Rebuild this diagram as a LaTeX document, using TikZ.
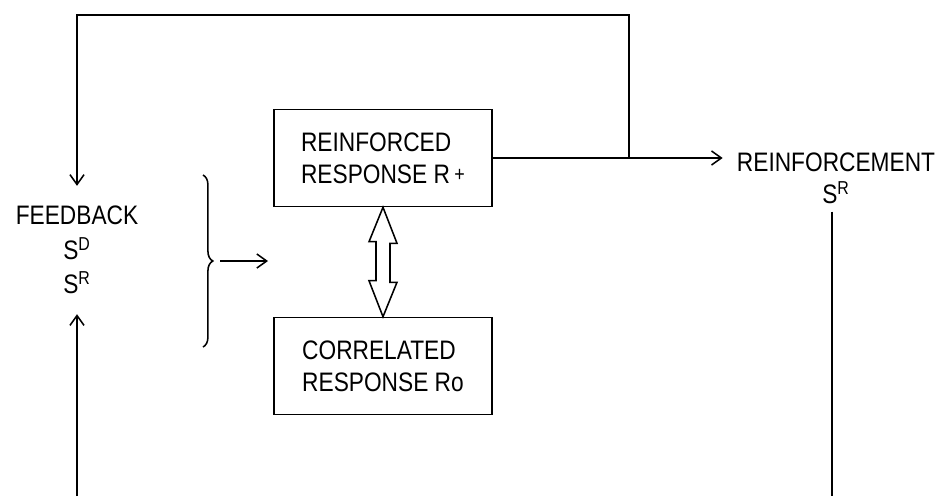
\documentclass[tikz,border=0pt]{standalone}
\usepackage{fontspec}
\setmainfont{Liberation Sans}[FakeStretch=0.85]
\usepackage{tikz}
\usetikzlibrary{arrows.meta, positioning, calc, decorations.pathreplacing}

\tikzset{
  resp/.style={draw, line width=1.1pt, minimum width=5.45cm, minimum height=2.425cm,
    align=left, inner sep=0pt},
  lbl/.style={align=center, inner xsep=0pt, inner ysep=0.5cm},
  conn/.style={line width=1.1pt, -{Straight Barb[length=7pt,width=10pt,line width=1.1pt]}},
  wire/.style={line width=1.1pt}
}

\begin{document}
\begin{tikzpicture}[x=0.025cm, y=-0.025cm,
    font=\fontsize{19}{22.5}\selectfont]
  \useasboundingbox (0,0) rectangle (948,496);
  %% the two responses
  \node[resp] (rplus) at (383,158)
    {REINFORCED\\RESPONSE R\,\raisebox{0.8pt}{\fontsize{15}{15}\selectfont+}};
  \node[resp] (rzero) at (383,366) {CORRELATED\\RESPONSE Ro};
  %% hollow double arrow between them
  \draw[wire] (rplus.south) -- ++(14,36) -- ++(-7,0) -- ++(0,39) -- ++(7,0)
    -- (rzero.north) -- ++(-14,-36) -- ++(7,0) -- ++(0,-39) -- ++(-7,0) -- cycle;
  %% feedback and reinforcement labels
  \node[lbl] (fb) at (77,250) {FEEDBACK\\[2pt]S\textsuperscript{D}\\[2pt]S\textsuperscript{R}};
  \node[align=center, inner xsep=0.35cm, inner ysep=0.2cm] (reinf) at (836,178)
    {REINFORCEMENT\\S\textsuperscript{R}};
  %% brace gathering the feedback
  \coordinate (brtop) at (203,175);
  \coordinate (brbot) at (203,347);
  \coordinate (brtip) at (220,261);
  \coordinate (inlet) at (268,261);
  \draw[wire, decorate, decoration={brace, amplitude=7pt}] (brtop) -- (brbot);
  \draw[conn] (brtip) -- (inlet);
  %% loops
  \coordinate (split) at (629,15);
  \coordinate (botL) at (77,496);
  \coordinate (botR) at (832,496);
  \draw[conn] (rplus.east) -- (rplus.east -| reinf.west);
  \draw[conn] (rplus.east -| split) -- (split) -- (fb.north |- split) -- (fb.north);
  \draw[conn] (botL) -- (fb.south);
  \draw[wire] (reinf.south -| botR) -- (botR);
\end{tikzpicture}
\end{document}
